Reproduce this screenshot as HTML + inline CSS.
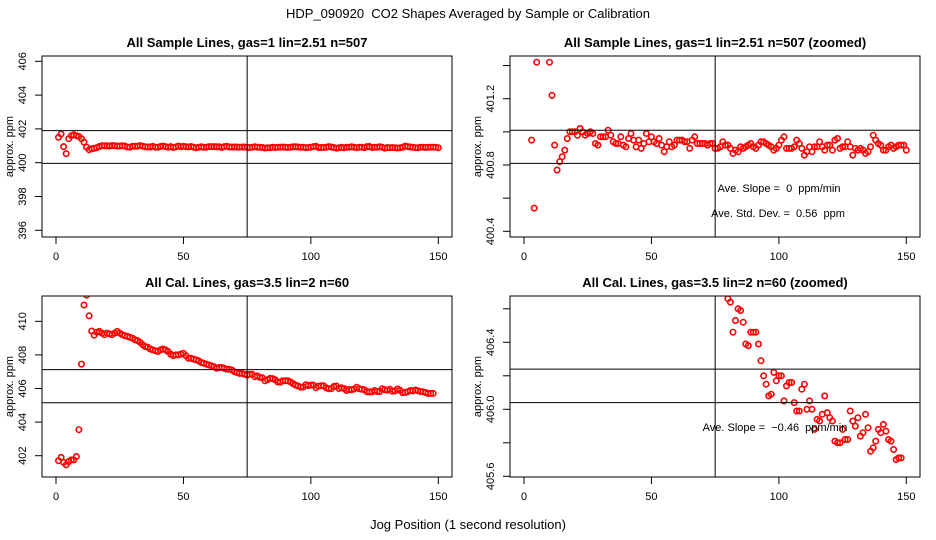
<!DOCTYPE html>
<html><head><meta charset="utf-8"><style>
html,body{margin:0;padding:0;background:#fff;width:936px;height:540px;overflow:hidden}
svg{display:block;font-family:"Liberation Sans",Arial,sans-serif}
text{white-space:pre}
</style></head><body>
<svg id="chart" width="936" height="540" viewBox="0 0 936 540" xmlns="http://www.w3.org/2000/svg">
<text x="468" y="18" text-anchor="middle" font-size="13">HDP_090920  CO2 Shapes Averaged by Sample or Calibration</text>
<text x="468" y="529" text-anchor="middle" font-size="13">Jog Position (1 second resolution)</text>
</svg>
<script>
const sampleValues = [401.5,401.7,400.95,400.54,401.42,401.6,401.65,401.6,401.55,401.42,401.22,400.92,400.77,400.82,400.85,400.89,400.96,401.0,
401.0,401.0,400.98,401.02,401.0,400.98,400.99,401.0,400.99,
400.93,400.92,400.97,400.97,400.97,401.01,400.98,400.94,400.93,400.93,400.97,400.92,400.91,400.96,400.99,400.95,400.91,400.95,400.9,400.93,400.99,400.94,400.97,400.94,400.93,400.96,400.92,400.88,400.91,400.94,400.91,400.92,400.95,400.95,400.95,400.94,400.94,400.9,400.95,400.97,400.93,400.93,400.93,400.93,400.92,400.93,400.93,400.9,400.9,400.91,400.94,400.92,400.92,400.9,400.87,400.89,400.88,400.91,400.9,400.91,400.92,400.93,400.91,400.9,400.92,400.94,400.94,400.93,400.92,400.91,400.89,400.9,400.92,400.95,400.97,400.9,400.9,400.9,400.91,400.95,400.93,400.9,400.86,400.88,400.91,400.88,400.91,400.91,400.94,400.91,400.89,400.92,400.92,400.89,400.95,400.96,400.9,400.91,400.91,400.94,400.91,400.86,400.9,400.89,400.9,400.89,400.87,400.88,400.91,400.98,400.95,400.93,400.92,400.89,400.89,400.91,400.92,400.9,400.91,400.92,400.92,400.92,400.89];
const calValues = [401.7,401.9,401.6,401.45,401.65,401.75,401.75,401.95,403.55,407.45,410.97,411.56,410.33,409.42,409.18,
409.35,409.4,409.3,409.2,409.3,409.25,409.2,409.3,409.4,409.3,
409.2,409.15,409.1,409.05,409.0,408.9,408.85,408.75,408.6,408.5,408.45,408.35,408.3,408.25,408.2,408.3,408.35,408.3,408.2,408.05,407.95,408.0,408.0,408.05,408.1,407.95,407.8,407.8,407.75,407.7,407.65,407.55,407.5,407.45,407.4,407.35,407.3,407.2,407.25,407.25,407.2,407.15,407.15,407.1,407.0,406.95,406.9,406.9,406.85,406.8,406.85,406.85,406.7,406.75,
406.66,406.64,406.46,406.53,406.6,406.59,406.52,406.39,406.38,406.46,406.46,406.46,406.39,406.29,406.2,406.15,406.08,406.09,406.22,406.17,406.2,406.2,406.05,406.14,406.16,406.16,406.04,405.99,405.99,406.12,406.15,406.0,406.05,406.0,405.88,405.94,405.93,405.97,406.08,405.98,405.95,405.93,405.81,405.8,405.8,405.88,405.82,405.82,405.99,405.93,405.9,405.95,405.84,405.86,405.97,405.89,405.75,405.77,405.81,405.88,405.86,405.91,405.87,405.82,405.81,405.76,405.7,405.71,405.71];
const xTicks = [0,50,100,150];
const yTicks1 = [396,398,400,402,404,406];
const yLabels1 = ["396","398","400","402","404","406"];
const yTicks2 = [400.4,400.6,400.8,401.0,401.2,401.4];
const yLabels2 = ["400.4","","400.8","","401.2",""];
const yTicks3 = [402,404,406,408,410];
const yLabels3 = ["402","404","406","408","410"];
const yTicks4 = [405.6,405.8,406.0,406.2,406.4,406.6];
const yLabels4 = ["405.6","","406.0","","406.4",""];
const hLines1 = [401.9,399.96];
const hLines2 = [401.01,400.81];
const hLines3 = [407.12,405.15];
const hLines4 = [406.24,406.04];
const vLine = 75;

const NS="http://www.w3.org/2000/svg";
const svg=document.getElementById('chart');
function mk(tag,attrs,parent){const e=document.createElementNS(NS,tag);for(const k in attrs)e.setAttribute(k,attrs[k]);(parent||svg).appendChild(e);return e;}

function panel(id,ox,oy,title,yRange,yPxRange,ticks,labels,hl,values,notes){
  const g=mk('g',{});
  
  
  const L=ox+42,R=ox+452,T=oy+56,B=oy+237;
  const xs=v=>ox+56+v*(382.3/150);
  const ys=v=>yPxRange[0]+(v-yRange[0])*(yPxRange[1]-yPxRange[0])/(yRange[1]-yRange[0]);
  const t=mk('text',{x:ox+247,y:oy+47,'text-anchor':'middle','font-size':'13','font-weight':'bold'},g);
  
  
  t.textContent=title;
  const clipId='clip-'+id;
  const cp=mk('clipPath',{id:clipId},g);mk('rect',{x:L,y:T,width:R-L,height:B-T},cp);
  const pts=mk('g',{'clip-path':'url(#'+clipId+')'},g);
  
  
  values.forEach((v,i)=>{
    const c=mk('circle',{cx:xs(i+1).toFixed(1),cy:ys(v).toFixed(1),r:2.7,fill:'none',stroke:'#f00','stroke-width':1.6},pts);
    
    
  });
  hl.forEach(h=>{
    const l=mk('line',{x1:L,x2:R,y1:ys(h),y2:ys(h),stroke:'#000','stroke-width':1},g);
    
    
  });
  const vl=mk('line',{x1:xs(vLine),x2:xs(vLine),y1:T,y2:B,stroke:'#000','stroke-width':1},g);
  
  
  const box=mk('rect',{x:L,y:T,width:R-L,height:B-T,fill:'none',stroke:'#000','stroke-width':1},g);
  
  
  const xa=mk('g',{},g);
  
  
  mk('line',{x1:xs(xTicks[0]),x2:xs(xTicks[xTicks.length-1]),y1:B,y2:B,stroke:'#000'},xa);
  xTicks.forEach(v=>{
    mk('line',{x1:xs(v),x2:xs(v),y1:B,y2:B+7,stroke:'#000'},xa);
    const tx=mk('text',{x:xs(v),y:B+23,'text-anchor':'middle','font-size':'11'},xa);
    
    
    tx.textContent=v;
  });
  const ya=mk('g',{},g);
  
  
  mk('line',{x1:L,x2:L,y1:ys(ticks[0]),y2:ys(ticks[ticks.length-1]),stroke:'#000'},ya);
  ticks.forEach((v,i)=>{
    const y=ys(v);
    mk('line',{x1:L-7,x2:L,y1:y,y2:y,stroke:'#000'},ya);
    if(labels[i]){
      const tx=mk('text',{x:ox+26,y:y,'text-anchor':'middle','font-size':'11',transform:`rotate(-90 ${ox+26} ${y})`},ya);
      
      
      tx.textContent=labels[i];
    }
  });
  const yt=mk('text',{x:ox+13,y:(T+B)/2,'text-anchor':'middle','font-size':'11',transform:`rotate(-90 ${ox+13} ${(T+B)/2})`},g);
  
  
  yt.textContent='approx. ppm';
  (notes||[]).forEach(n=>{
    const tx=mk('text',{x:ox+n[0],y:oy+n[1],'text-anchor':'middle','font-size':'11'},g);
    
    
    tx.textContent=n[2];
  });
}
panel('panel-sample',0,0,'All Sample Lines, gas=1 lin=2.51 n=507',[400,406],[162.7,61.3],yTicks1,yLabels1,hLines1,sampleValues);
panel('panel-sample-zoomed',468,0,'All Sample Lines, gas=1 lin=2.51 n=507 (zoomed)',[400.8,401.2],[165,98.7],yTicks2,yLabels2,hLines2,sampleValues,
  [[311,192,'Ave. Slope =  0  ppm/min'],[310,217,'Ave. Std. Dev. =  0.56  ppm']]);
panel('panel-cal',0,240,'All Cal. Lines, gas=3.5 lin=2 n=60',[402,410],[455.7,321.3],yTicks3,yLabels3,hLines3,calValues);
panel('panel-cal-zoomed',468,240,'All Cal. Lines, gas=3.5 lin=2 n=60 (zoomed)',[406.0,406.4],[409.3,342.3],yTicks4,yLabels4,hLines4,calValues,
  [[307,191,'Ave. Slope =  \u22120.46  ppm/min']]);
</script>
</body></html>
